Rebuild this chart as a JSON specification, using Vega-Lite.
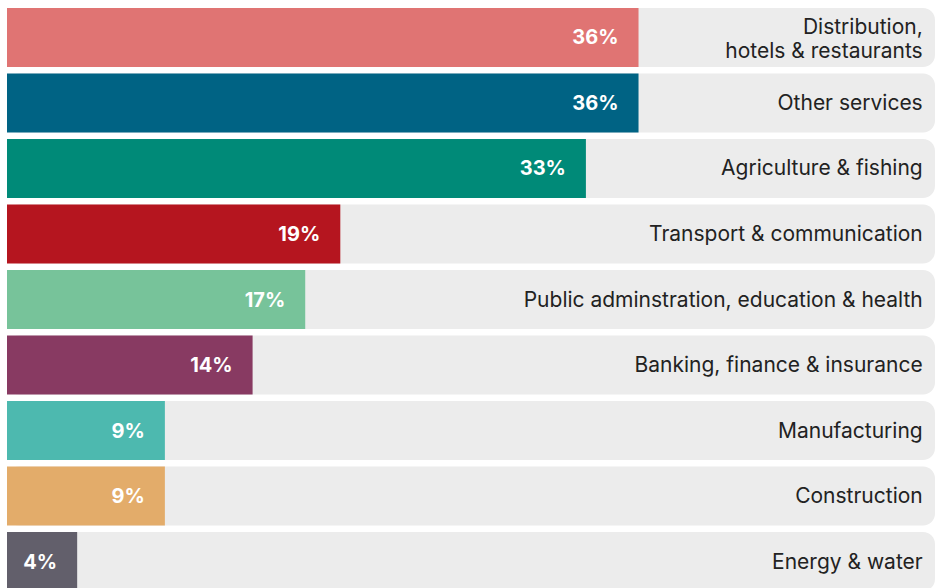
{
  "$schema": "https://vega.github.io/schema/vega-lite/v6.json",
  "autosize": "none",
  "width": 928,
  "height": 583,
  "padding": {"left": 7, "top": 8, "right": 0, "bottom": 0},
  "background": "white",
  "config": {"view": {"stroke": null}},
  "data": {
    "values": [
      {"sector": "Distribution,\nhotels & restaurants", "pct": 36, "label": "36%", "color": "#E07473"},
      {"sector": "Other services", "pct": 36, "label": "36%", "color": "#006384"},
      {"sector": "Agriculture & fishing", "pct": 33, "label": "33%", "color": "#008A78"},
      {"sector": "Transport & communication", "pct": 19, "label": "19%", "color": "#B5151F"},
      {"sector": "Public adminstration, education & health", "pct": 17, "label": "17%", "color": "#77C39A"},
      {"sector": "Banking, finance & insurance", "pct": 14, "label": "14%", "color": "#883A62"},
      {"sector": "Manufacturing", "pct": 9, "label": "9%", "color": "#4DB9AF"},
      {"sector": "Construction", "pct": 9, "label": "9%", "color": "#E3AC6A"},
      {"sector": "Energy & water", "pct": 4, "label": "4%", "color": "#625F6B"}
    ]
  },
  "encoding": {
    "y": {
      "field": "sector",
      "type": "nominal",
      "sort": null,
      "axis": null,
      "scale": {"paddingInner": 0.1, "paddingOuter": 0}
    }
  },
  "layer": [
    {
      "mark": {"type": "bar", "color": "#ECECEC", "cornerRadiusEnd": 12},
      "encoding": {
        "x": {"datum": 52.9, "type": "quantitative", "axis": null, "scale": {"domain": [0, 52.9], "nice": false}},
        "x2": {"datum": 0}
      }
    },
    {
      "mark": {"type": "bar"},
      "encoding": {
        "x": {"field": "pct", "type": "quantitative"},
        "color": {"field": "color", "type": "nominal", "scale": null, "legend": null}
      }
    },
    {
      "mark": {"type": "text", "align": "right", "dx": -20, "dy": 1, "color": "white", "fontWeight": "bold", "fontSize": 20, "font": "Inter"},
      "encoding": {
        "x": {"field": "pct", "type": "quantitative"},
        "text": {"field": "label"}
      }
    },
    {
      "transform": [{"filter": "indexof(datum.sector, '\\n') < 0"}],
      "mark": {"type": "text", "align": "right", "color": "#222222", "fontSize": 21, "font": "Inter", "dy": 1},
      "encoding": {
        "x": {"datum": 52.2, "type": "quantitative"},
        "text": {"field": "sector"}
      }
    },
    {
      "transform": [{"filter": "indexof(datum.sector, '\\n') >= 0"}],
      "mark": {"type": "text", "align": "right", "color": "#222222", "fontSize": 21, "font": "Inter", "lineBreak": "\n", "lineHeight": 24, "dy": -9},
      "encoding": {
        "x": {"datum": 52.2, "type": "quantitative"},
        "text": {"field": "sector"}
      }
    }
  ]
}
